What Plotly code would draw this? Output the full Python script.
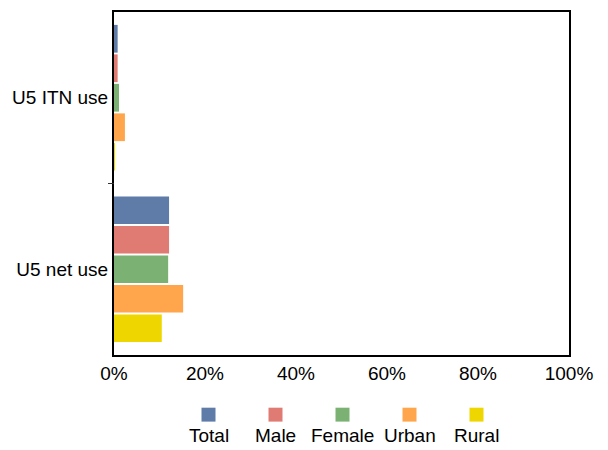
import plotly.graph_objects as go

categories = ["U5 ITN use", "U5 net use"]
series_names = ["Total", "Male", "Female", "Urban", "Rural"]
series_values = {
    "Total":  [0.8, 12.1],
    "Male":   [0.8, 12.1],
    "Female": [1.1, 11.9],
    "Urban":  [2.4, 15.2],
    "Rural":  [0.2, 10.5],
}
colors = {
    "Total": "#5f7ba8",
    "Male": "#e07b73",
    "Female": "#7bb273",
    "Urban": "#ffa64c",
    "Rural": "#eed700",
}
x_ticks = [0, 20, 40, 60, 80, 100]
x_tick_labels = ["0%", "20%", "40%", "60%", "80%", "100%"]

FONT = "Liberation Sans, Arial, sans-serif"
FS = 19

W, H = 608, 450
L, T, R, B = 114, 10, 39, 95
PW, PH = W - L - R, H - T - B

fig = go.Figure()
for name in series_names:
    fig.add_trace(go.Bar(
        name=name, y=categories, x=series_values[name], orientation="h",
        marker=dict(color=colors[name], line=dict(width=0)),
        showlegend=False,
    ))

# custom legend: square above label
legend_x0 = 208.5
legend_dx = 67
for i, name in enumerate(series_names):
    cx = legend_x0 + i * legend_dx
    fig.add_shape(type="rect", xref="paper", yref="paper",
                  x0=(cx - 7 - L) / PW, x1=(cx + 7 - L) / PW,
                  y0=(T + PH - 422) / PH, y1=(T + PH - 408) / PH,
                  fillcolor=colors[name], line=dict(width=0))
    fig.add_annotation(text=name, xref="paper", yref="paper",
                       x=(cx - L) / PW, y=(T + PH - 436) / PH,
                       showarrow=False, xanchor="center", yanchor="middle",
                       font=dict(size=FS, color="#000000", family=FONT))

# tick mark at the boundary between the two categories
fig.add_shape(type="line", xref="paper", yref="y",
              x0=-6 / PW, x1=0, y0=0.5, y1=0.5,
              line=dict(color="#333333", width=1))

fig.update_layout(
    width=W, height=H,
    margin=dict(l=L, r=R, t=T, b=B),
    paper_bgcolor="white", plot_bgcolor="white",
    barmode="group", bargap=0.14, bargroupgap=0.06,
    font=dict(family=FONT, size=FS, color="#000000"),
    xaxis=dict(range=[0, 100], tickvals=x_ticks, ticktext=x_tick_labels,
               showgrid=False, zeroline=False, showline=True, linecolor="#000000",
               linewidth=1.5, mirror=True, ticks="", ticklen=0,
               tickfont=dict(size=FS)),
    yaxis=dict(autorange="reversed", showgrid=False, showline=True,
               linecolor="#000000", linewidth=2, mirror=True,
               ticks="", tickfont=dict(size=FS)),
)

# remove the default 8px page margin so the 608x450 figure fills the window
fig.write_html("out.html",
               config={"displayModeBar": False},
               post_script="document.body.style.margin='0';document.body.style.overflow='hidden';")
